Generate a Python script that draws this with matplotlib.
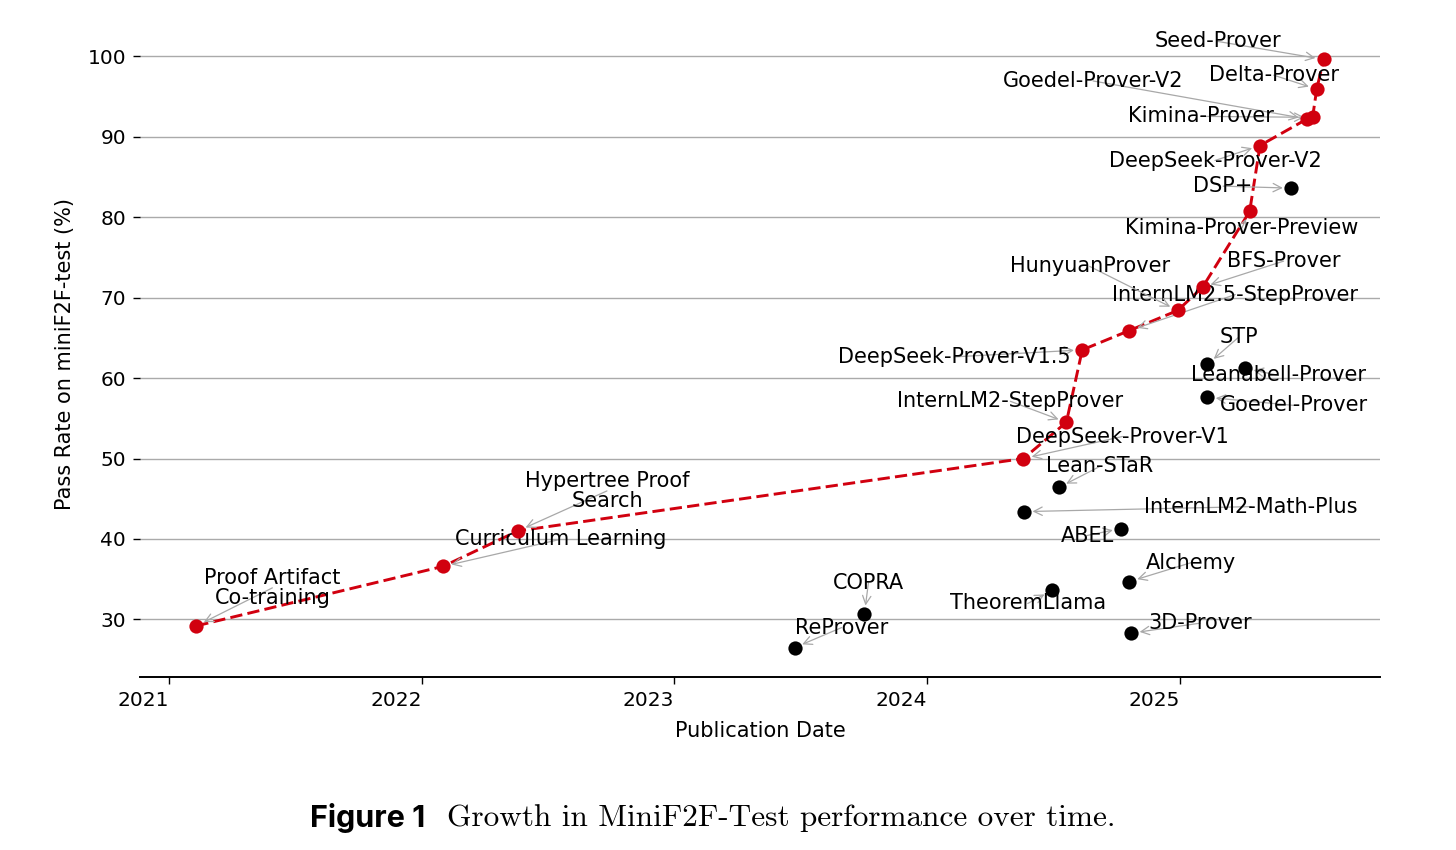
import matplotlib
matplotlib.use("Agg")
import matplotlib.pyplot as plt
import matplotlib.dates as mdates
from datetime import datetime

# ---------------- data ----------------
front_names = ["Proof Artifact\nCo-training", "Curriculum Learning", "Hypertree Proof\nSearch",
               "DeepSeek-Prover-V1", "InternLM2-StepProver", "DeepSeek-Prover-V1.5",
               "InternLM2.5-StepProver", "HunyuanProver", "BFS-Prover", "Kimina-Prover-Preview",
               "DeepSeek-Prover-V2", "Goedel-Prover-V2", "Kimina-Prover", "Delta-Prover", "Seed-Prover"]
front_dates = ["2021-02-09", "2022-02-01", "2022-05-20", "2024-05-20", "2024-07-21", "2024-08-13",
               "2024-10-20", "2024-12-29", "2025-02-03", "2025-04-12", "2025-04-27", "2025-07-04",
               "2025-07-12", "2025-07-18", "2025-07-28"]
front_vals = [29.2, 36.6, 41.0, 50.0, 54.5, 63.5, 65.9, 68.4, 71.3, 80.7, 88.9, 92.2, 92.4, 95.9, 99.6]

other_names = ["ReProver", "COPRA", "TheoremLlama", "Alchemy", "3D-Prover", "ABEL",
               "InternLM2-Math-Plus", "Lean-STaR", "STP", "Leanabell-Prover", "Goedel-Prover", "DSP+"]
other_dates = ["2023-06-24", "2023-10-03", "2024-06-30", "2024-10-20", "2024-10-23", "2024-10-08",
               "2024-05-21", "2024-07-10", "2025-02-10", "2025-04-06", "2025-02-10", "2025-06-11"]
other_vals = [26.5, 30.7, 33.6, 34.7, 28.3, 41.3, 43.4, 46.4, 61.7, 61.2, 57.6, 83.6]

# label offsets (pixels) relative to each point
front_offsets = [(76, 38), (117, 27), (89, 40), (99, 22), (-56, 21), (-128, -7), (106, 36),
                 (-88, 44), (81, 26), (-8, -17), (-45, -15), (-214, 38), (-112, 1), (-43, 14),
                 (-106, 18)]
other_offsets = [(47, 20), (4, 31), (-24, -13), (62, 19), (69, 10), (-34, -7), (227, 5),
                 (41, 21), (31, 27), (33, -7), (86, -8), (-68, 2)]

year_ticks = [2021, 2022, 2023, 2024, 2025]
y_ticks = [30, 40, 50, 60, 70, 80, 90, 100]

# ---------------- plot ----------------
RED = "#d1000f"
fig = plt.figure(figsize=(14.56, 8.5), dpi=100)
ax = fig.add_axes([140 / 1456, 1 - 677 / 850, 1240 / 1456, (677 - 30) / 850])

fd = [datetime.strptime(d, "%Y-%m-%d") for d in front_dates]
od = [datetime.strptime(d, "%Y-%m-%d") for d in other_dates]

ax.grid(axis="y", color="#aaaaaa", lw=1.0, zorder=0)
ax.set_axisbelow(True)

ax.plot(fd, front_vals, ls=(0, (4.2, 1.8)), color=RED, lw=2.1, zorder=2)
ax.scatter(fd, front_vals, s=105, color=RED, zorder=4, linewidths=0)
ax.scatter(od, other_vals, s=105, color="black", zorder=4, linewidths=0)

arrow_kw = dict(arrowstyle="->", color="#a8a8a8", lw=0.9, shrinkA=0, shrinkB=6, patchA=None)
for names, dates, vals, offs in [(front_names, fd, front_vals, front_offsets),
                                 (other_names, od, other_vals, other_offsets)]:
    for n, d, v, (dx, dy) in zip(names, dates, vals, offs):
        ax.annotate(n, xy=(d, v), xytext=(dx, dy), textcoords="offset pixels",
                    ha="center", va="center", fontsize=15, zorder=3,
                    linespacing=1.0, arrowprops=arrow_kw)

ax.set_xticks([datetime(y, 1, 1) for y in year_ticks])
ax.xaxis.set_major_formatter(mdates.DateFormatter("%Y"))
for lab in ax.get_xticklabels():
    lab.set_ha("right")
ax.set_yticks(y_ticks)
ax.tick_params(axis="both", labelsize=14.5, length=5, width=1, pad=5)

for s in ["top", "right", "left"]:
    ax.spines[s].set_visible(False)
ax.spines["bottom"].set_linewidth(1.4)

ax.set_xlabel("Publication Date", fontsize=15, labelpad=8)
ax.set_ylabel("Pass Rate on miniF2F-test (%)", fontsize=15, labelpad=9)

# caption
fig.text(310 / 1456, 1 - 818 / 850, "Figure 1", fontsize=22, fontweight="bold",
         family="Inter", va="center", ha="left")
fig.text(447 / 1456, 1 - 818 / 850, "Growth in MiniF2F-Test performance over time.",
         fontsize=22.5, family="cmr10", va="center", ha="left")

fig.savefig("out.png", dpi=100)
